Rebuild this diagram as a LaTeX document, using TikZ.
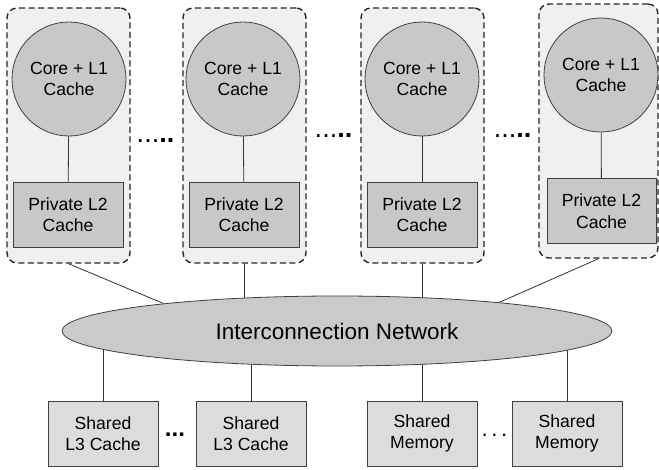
\documentclass[tikz,border=0pt]{standalone}
\usepackage{fontspec}
\setmainfont{Liberation Sans}
\usetikzlibrary{shapes.geometric,backgrounds}
\definecolor{tilebg}{HTML}{F0F0F0}
\definecolor{coregray}{HTML}{C8C8C8}
\definecolor{sharedgray}{HTML}{DCDCDC}
\definecolor{netgray}{HTML}{CACACA}
\definecolor{wiregray}{HTML}{333333}

\begin{document}
\begin{tikzpicture}[x=1pt,y=-1pt,
  tile/.style={draw=black!85,line width=1.4pt,dash pattern=on 6pt off 3.5pt,
    rounded corners=10pt,fill=tilebg,minimum width=123pt,minimum height=255pt,inner sep=0pt},
  core/.style={circle,draw=black!75,line width=0.8pt,fill=coregray,minimum size=114pt,
    inner sep=0pt,align=center,font=\fontsize{17.6}{21.5}\selectfont},
  privbox/.style={draw=black!75,line width=0.8pt,fill=coregray,minimum width=110pt,
    minimum height=65pt,inner sep=0pt,align=center,font=\fontsize{17.6}{21.5}\selectfont},
  sharedbox/.style={draw=black!75,line width=0.8pt,fill=sharedgray,minimum width=110pt,
    minimum height=65pt,inner sep=0pt,align=center,font=\fontsize{17.6}{21.5}\selectfont},
  wire/.style={draw=wiregray,line width=0.8pt},
  gap/.style={anchor=base,inner sep=0pt,font=\fontsize{27}{27}\selectfont}]
  \useasboundingbox (0,0) rectangle (659,470);

  \node[tile] (tile1) at (68.5,135.5) {};
  \node[tile] (tile2) at (244.5,135.5) {};
  \node[tile] (tile3) at (422.5,135.5) {};
  \node[tile,minimum width=119pt,minimum height=254pt] (tile4) at (598.5,131) {};

  \node[core] (core1) at (69,79) {Core + L1\\Cache};
  \node[core] (core2) at (243,79) {Core + L1\\Cache};
  \node[core] (core3) at (422,79) {Core + L1\\Cache};
  \node[core] (core4) at (601,75) {Core + L1\\Cache};

  \node[privbox] (ltwo1) at (68,214.5) {Private L2\\Cache};
  \node[privbox] (ltwo2) at (244,214.5) {Private L2\\Cache};
  \node[privbox] (ltwo3) at (422,214.5) {Private L2\\Cache};
  \node[privbox,minimum width=109pt] (ltwo4) at (601.5,211) {Private L2\\Cache};

  \foreach \i in {1,...,4}
    \draw[wire] (core\i) -- (ltwo\i);

  \node[gap] (dots1) at (155.5,143) {...\textbf{..}};
  \node[gap] (dots2) at (333.5,138) {...\textbf{..}};
  \node[gap] (dots3) at (512.5,138) {...\textbf{..}};

  \node[ellipse,draw=black!75,line width=0.8pt,fill=netgray,minimum width=550pt,
    minimum height=70pt,inner sep=0pt,font=\fontsize{22.5}{27}\selectfont] (net) at (337,331)
    {Interconnection Network};

  \node[sharedbox] (lthree1) at (103,433.5) {Shared\\L3 Cache};
  \node[sharedbox] (lthree2) at (251,433.5) {Shared\\L3 Cache};
  \node[sharedbox] (mem1) at (422,433.5) {Shared\\Memory};
  \node[sharedbox] (mem2) at (567,433.5) {Shared\\Memory};

  \node[gap,font=\fontsize{24}{24}\selectfont\bfseries] (dots4) at (175,436) {...};
  \node[gap,font=\fontsize{22}{22}\selectfont] (dots5) at (494.5,436) {.\,.\,.};

  \begin{scope}[on background layer]
    \draw[wire] (tile1.south) -- (net.171);
    \draw[wire] (tile2.south) -- (tile2.south |- net.center);
    \draw[wire] (tile3.south) -- (tile3.south |- net.center);
    \draw[wire] (tile4.south) -- (net.10);
    \foreach \b in {lthree1,lthree2,mem1,mem2}
      \draw[wire] (\b.north) -- (\b.north |- net.center);
  \end{scope}
\end{tikzpicture}
\end{document}
